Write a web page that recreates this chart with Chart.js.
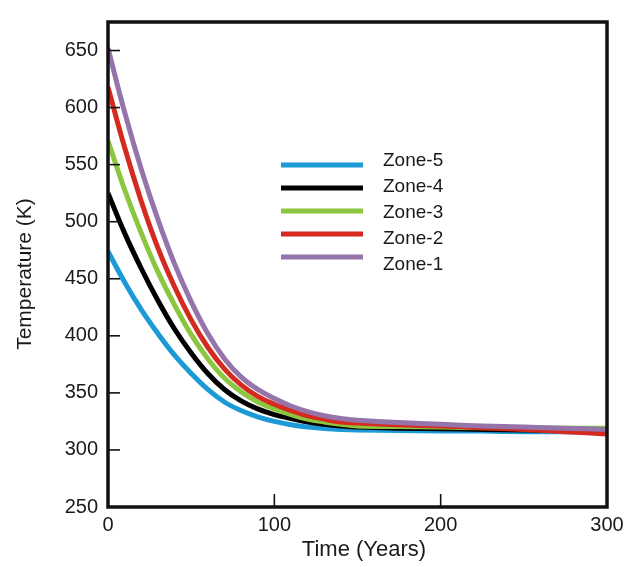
<!DOCTYPE html>
<html>
<head>
<meta charset="utf-8">
<script src="https://cdn.jsdelivr.net/npm/chart.js@4.4.1/dist/chart.umd.min.js"></script>
<style>
  html, body { margin: 0; padding: 0; background: #fff; }
</style>
</head>
<body>
<canvas id="tempChart" width="639" height="567"></canvas>
<script>
// time axis (years) and zone temperatures (K)
const years = [0, 10, 20, 30, 40, 50, 60, 70, 80, 90, 100, 110, 120, 130, 140, 150, 175, 200, 225, 250, 275, 300];
const zone1 = [652, 596, 546, 502, 463, 430, 402, 380, 364, 353, 345, 338.5, 333.5, 330, 327.5, 326, 324, 322.5, 321, 320, 319, 318];
const zone2 = [618, 565, 518, 477, 443, 414, 390, 371, 357, 347, 340, 334.5, 330, 327, 324.5, 323.5, 322, 321, 319.5, 318, 316, 314];
const zone3 = [571, 528, 490, 456, 427, 401, 380, 363, 351, 342, 336, 331, 327, 324.5, 322.5, 321, 320.5, 320, 319.5, 319.5, 319, 319];
const zone4 = [525, 490, 459, 431, 406, 385, 367, 353, 343, 336, 331, 327.5, 324.5, 322.5, 321, 320, 319, 318.5, 318, 317.5, 317, 317];
const zone5 = [474, 447, 423, 402, 383, 367, 353, 342, 334.5, 329, 325, 322, 320, 318.8, 318, 317.5, 317, 316.5, 316.5, 316, 316, 316];
const zoneLabels = ['Zone-1', 'Zone-2', 'Zone-3', 'Zone-4', 'Zone-5'];
const yTicks = [250, 300, 350, 400, 450, 500, 550, 600, 650];
const xTicks = [0, 100, 200, 300];

const FONT = '"Liberation Sans", Arial, sans-serif';
const toPoints = vals => vals.map((v, i) => ({ x: years[i], y: v }));

const zones = [
    { label: zoneLabels[0], data: toPoints(zone1), borderColor: '#9474aa' },
    { label: zoneLabels[1], data: toPoints(zone2), borderColor: '#d42a20' },
    { label: zoneLabels[2], data: toPoints(zone3), borderColor: '#8cc63e' },
    { label: zoneLabels[3], data: toPoints(zone4), borderColor: '#000000' },
    { label: zoneLabels[4], data: toPoints(zone5), borderColor: '#1b9ad6' }
];

// box frame with inward ticks plus the two axis titles
const framePlugin = {
    id: 'frame',
    afterDraw(chart) {
        const { ctx, chartArea: a, scales } = chart;
        ctx.save();
        ctx.strokeStyle = '#111';
        ctx.lineWidth = 1.6;
        yTicks.forEach(v => {
            if (v === yTicks[0]) return;
            const y = scales.y.getPixelForValue(v);
            ctx.beginPath();
            ctx.moveTo(a.left, y);
            ctx.lineTo(a.left + 12, y);
            ctx.stroke();
        });
        xTicks.forEach(v => {
            if (v === xTicks[0] || v === xTicks[xTicks.length - 1]) return;
            const x = scales.x.getPixelForValue(v);
            ctx.beginPath();
            ctx.moveTo(x, a.bottom);
            ctx.lineTo(x, a.bottom - 13);
            ctx.stroke();
        });
        ctx.lineWidth = 3.5;
        ctx.strokeRect(a.left, a.top, a.right - a.left, a.bottom - a.top);

        ctx.fillStyle = '#1a1a1a';
        ctx.textAlign = 'center';
        ctx.textBaseline = 'middle';
        ctx.font = '22px ' + FONT;
        ctx.fillText('Time (Years)', 364, 550);
        ctx.translate(25, 274);
        ctx.rotate(-Math.PI / 2);
        ctx.font = '21px ' + FONT;
        ctx.fillText('Temperature (K)', 0, 0);
        ctx.restore();
    }
};

// legend block inside the plot
const legendPlugin = {
    id: 'zoneLegend',
    afterDraw(chart) {
        const { ctx } = chart;
        const lineY = [165, 188, 211, 234, 257];
        const textY = [161, 187, 213, 239, 265];
        ctx.save();
        ctx.font = '19px ' + FONT;
        ctx.textBaseline = 'middle';
        ctx.fillStyle = '#1a1a1a';
        ctx.lineWidth = 5;
        // Zone-5 on top down to Zone-1
        for (let k = 0; k < zones.length; k++) {
            const ds = zones[zones.length - 1 - k];
            ctx.strokeStyle = ds.borderColor;
            ctx.beginPath();
            ctx.moveTo(281, lineY[k]);
            ctx.lineTo(363, lineY[k]);
            ctx.stroke();
            ctx.fillText(ds.label, 383, textY[k]);
        }
        ctx.restore();
    }
};

new Chart(document.getElementById('tempChart'), {
    type: 'line',
    data: {
        datasets: zones.map(z => ({
            label: z.label,
            data: z.data,
            borderColor: z.borderColor,
            borderWidth: 5,
            pointRadius: 0,
            fill: false,
            tension: 0.4
        }))
    },
    options: {
        responsive: false,
        animation: false,
        layout: { padding: { top: 12, right: 32, left: 0, bottom: 0 } },
        plugins: {
            legend: { display: false },
            tooltip: { enabled: false }
        },
        scales: {
            x: {
                type: 'linear',
                min: 0,
                max: 300,
                afterFit(scale) { scale.height = 60; },
                afterBuildTicks(scale) { scale.ticks = xTicks.map(v => ({ value: v })); },
                grid: { display: false, drawTicks: false },
                border: { display: false },
                ticks: {
                    padding: 6,
                    color: '#1a1a1a',
                    font: { family: FONT, size: 20 }
                }
            },
            y: {
                min: 250,
                max: 675,
                afterFit(scale) { scale.width = 108; },
                afterBuildTicks(scale) { scale.ticks = yTicks.map(v => ({ value: v })); },
                grid: { display: false, drawTicks: false },
                border: { display: false },
                ticks: {
                    padding: 10,
                    color: '#1a1a1a',
                    font: { family: FONT, size: 20 }
                }
            }
        }
    },
    plugins: [framePlugin, legendPlugin]
});
</script>
</body>
</html>
